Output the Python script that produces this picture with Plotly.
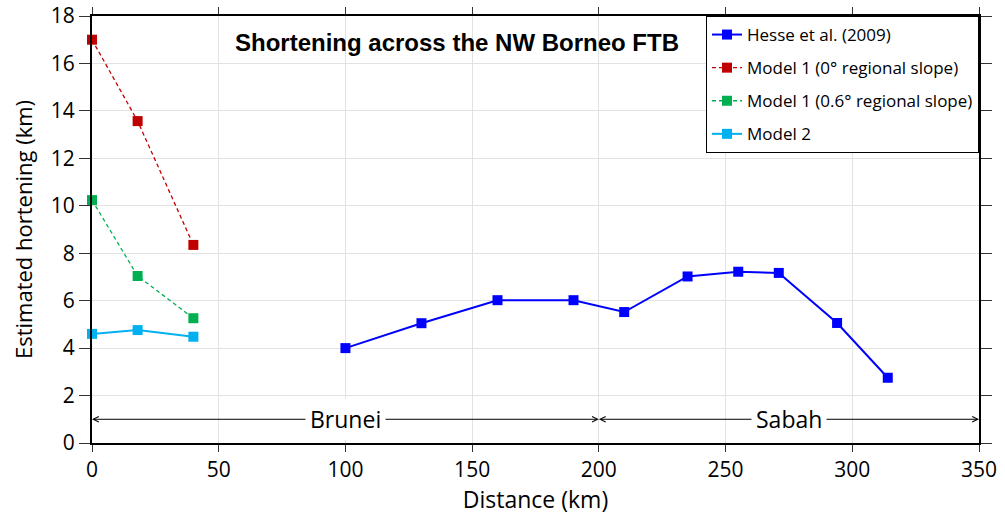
import plotly.graph_objects as go

# Data
hesse_x = [100, 130, 160, 190, 210, 235, 255, 271, 294, 314]
hesse_y = [4.0, 5.05, 6.02, 6.02, 5.52, 7.02, 7.22, 7.17, 5.06, 2.75]

model_x = [0, 18, 40]
m1_flat_y = [17.0, 13.57, 8.35]
m1_slope_y = [10.24, 7.04, 5.26]
m2_y = [4.6, 4.76, 4.48]

region_names = ["Brunei", "Sabah"]
region_bounds = [(0, 200), (200, 350)]

FONT = "Open Sans"

fig = go.Figure()

series = [
    ("Hesse et al. (2009)", hesse_x, hesse_y, "#0000FF", "solid", 2),
    ("Model 1 (0° regional slope)", model_x, m1_flat_y, "#C00000", "4px,3px", 1.3),
    ("Model 1 (0.6° regional slope)", model_x, m1_slope_y, "#00B050", "4px,3px", 1.3),
    ("Model 2", model_x, m2_y, "#00B0F0", "solid", 2),
]
for i, (name, xs, ys, col, dash, w) in enumerate(series):
    fig.add_trace(go.Scatter(
        x=xs, y=ys, name=name, mode="lines+markers",
        line=dict(color=col, width=w, dash=dash),
        marker=dict(symbol="square", size=10, color=col),
        legendgroup=f"g{i}", cliponaxis=False,
    ))

annotations = []
for name, (a, b) in zip(region_names, region_bounds):
    mid = (a + b) / 2
    for end in (a, b):
        annotations.append(dict(
            x=end, y=1, ax=mid, ay=1, xref="x", yref="y", axref="x", ayref="y",
            text="", showarrow=True, arrowhead=5, arrowsize=1.1, arrowwidth=1,
            arrowcolor="black", standoff=0,
        ))
    annotations.append(dict(
        x=mid, y=1, xref="x", yref="y", text=name, showarrow=False,
        font=dict(family=FONT, size=23, color="black"), bgcolor="white",
        borderpad=4,
    ))

annotations.append(dict(
    x=0.412, y=0.937, xref="paper", yref="paper", xanchor="center", yanchor="middle",
    text="<b>Shortening across the NW Borneo FTB</b>", showarrow=False,
    font=dict(family="Liberation Sans, Arial", size=24, color="black"),
))

axis_common = dict(
    showline=True, linecolor="black", linewidth=2, mirror="ticks",
    ticks="outside", tickwidth=1, tickcolor="#333333",
    showgrid=True, gridcolor="#e2e2e2", gridwidth=1, zeroline=False,
    automargin=False,
    tickfont=dict(family=FONT, size=21, color="black"),
)

fig.update_layout(
    width=1005, height=517,
    margin=dict(l=92, r=26, t=16, b=74),
    paper_bgcolor="white", plot_bgcolor="white",
    xaxis=dict(range=[0, 350], dtick=50, ticklen=7,
               title=dict(text="Distance (km)", font=dict(family=FONT, size=23, color="black"), standoff=3),
               **axis_common),
    yaxis=dict(range=[0, 18], dtick=2, ticklen=11,
               title=dict(text="Estimated hortening (km)", font=dict(family=FONT, size=22, color="black"), standoff=12),
               **axis_common),
    legend=dict(x=1, y=1, xanchor="right", yanchor="top",
                bgcolor="white", bordercolor="black", borderwidth=1,
                font=dict(family=FONT, size=17, color="black"),
                traceorder="grouped", tracegroupgap=8),
    annotations=annotations,
    showlegend=True,
)

fig.write_html("out.html")
